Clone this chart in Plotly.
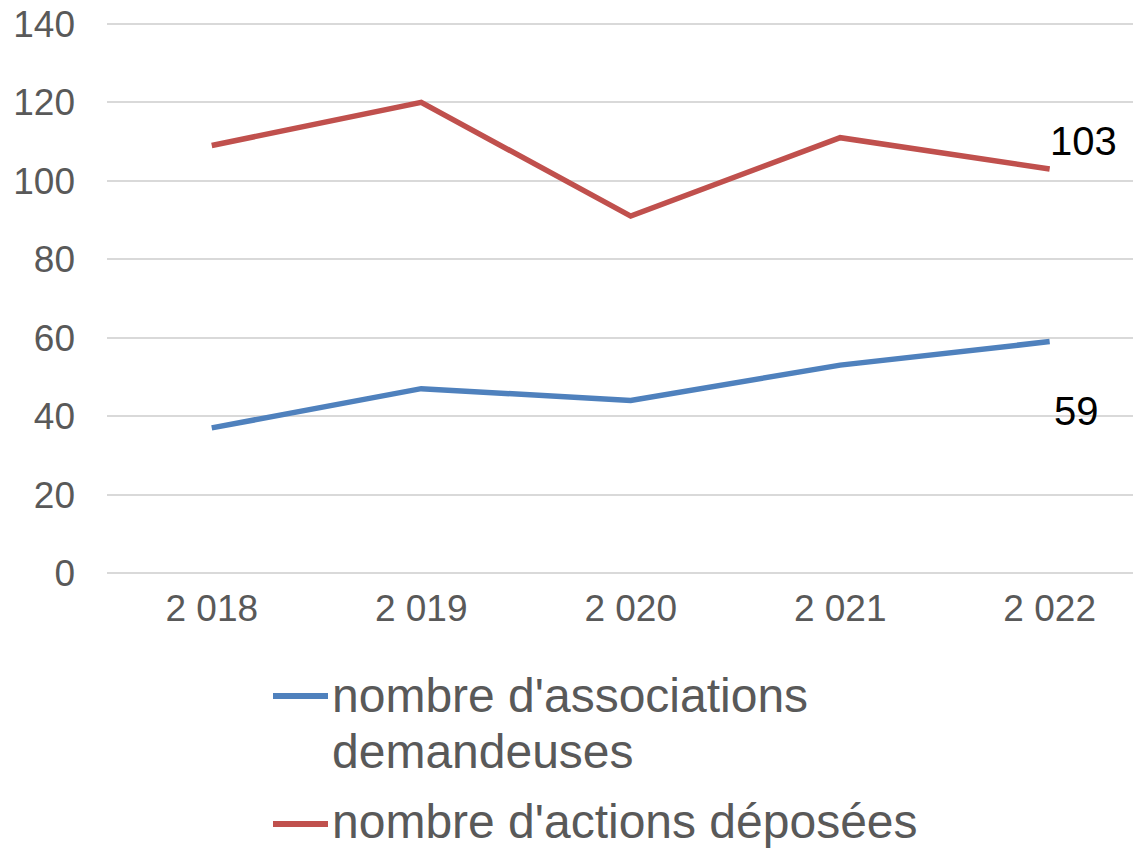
import plotly.graph_objects as go

years = ["2 018", "2 019", "2 020", "2 021", "2 022"]
associations = [37, 47, 44, 53, 59]
actions = [109, 120, 91, 111, 103]
series_names = ["nombre d'associations demandeuses", "nombre d'actions déposées"]
legend_lines = [["nombre d'associations", "demandeuses"], ["nombre d'actions déposées"]]
y_ticks = [0, 20, 40, 60, 80, 100, 120, 140]

FONT = "Liberation Sans, Arial, sans-serif"
BLUE = "#4F81BD"
RED = "#C0504D"
colors = [BLUE, RED]

OFF = 8  # page body margin in the browser
W, H = 1141 - OFF, 849 - OFF
ML, MR, MT = 107 - OFF, 0, 20 - OFF
PLOT_BOTTOM = 573 - OFF
MB = H - PLOT_BOTTOM
PW, PH = W - ML - MR, H - MT - MB


def px_to_paper(px, py):
    px -= OFF
    py -= OFF
    return (px - ML) / PW, (PLOT_BOTTOM - py) / PH


fig = go.Figure()
fig.add_trace(go.Scatter(x=years, y=associations, mode="lines", name=series_names[0],
                         line=dict(color=BLUE, width=5.5), showlegend=False))
fig.add_trace(go.Scatter(x=years, y=actions, mode="lines", name=series_names[1],
                         line=dict(color=RED, width=5.5), showlegend=False))

# data labels on last point
fig.add_annotation(x=years[-1], y=actions[-1], text=str(actions[-1]), showarrow=False,
                   xanchor="left", yanchor="middle", xshift=-2, yshift=28,
                   font=dict(family=FONT, size=40, color="#000000"))
fig.add_annotation(x=years[-1], y=associations[-1], text=str(associations[-1]), showarrow=False,
                   xanchor="left", yanchor="middle", xshift=2, yshift=-69,
                   font=dict(family=FONT, size=40, color="#000000"))

# manual legend
legend_rows = [(696, [695, 751]), (824, [821])]
for (line_y, text_ys), color, lines in zip(legend_rows, colors, legend_lines):
    x0, y0 = px_to_paper(273, line_y)
    x1, _ = px_to_paper(328, line_y)
    fig.add_shape(type="line", xref="paper", yref="paper", x0=x0, x1=x1, y0=y0, y1=y0,
                  line=dict(color=color, width=6))
    for ty, txt in zip(text_ys, lines):
        tx, tyy = px_to_paper(330, ty)
        fig.add_annotation(xref="paper", yref="paper", x=tx, y=tyy, text=txt, showarrow=False,
                           xanchor="left", yanchor="middle", align="left",
                           font=dict(family=FONT, size=48, color="#595959"))

fig.update_layout(
    width=W, height=H,
    margin=dict(l=ML, r=MR, t=MT, b=MB, autoexpand=False),
    paper_bgcolor="white", plot_bgcolor="white",
    font=dict(family=FONT, color="#595959"),
    showlegend=False,
    xaxis=dict(type="category", range=[-0.5, 4.436], showgrid=False, zeroline=False,
               showline=False, ticks="", ticklabelstandoff=10,
               tickfont=dict(family=FONT, size=37, color="#595959")),
    yaxis=dict(range=[0, 141], tickvals=y_ticks, showgrid=True, gridcolor="#D9D9D9",
               gridwidth=2, zeroline=True, zerolinecolor="#D9D9D9", zerolinewidth=2,
               showline=False, ticks="", ticklabelstandoff=31, ticklabeloverflow="allow",
               tickfont=dict(family=FONT, size=37, color="#595959")),
)

fig.write_html("out.html")
